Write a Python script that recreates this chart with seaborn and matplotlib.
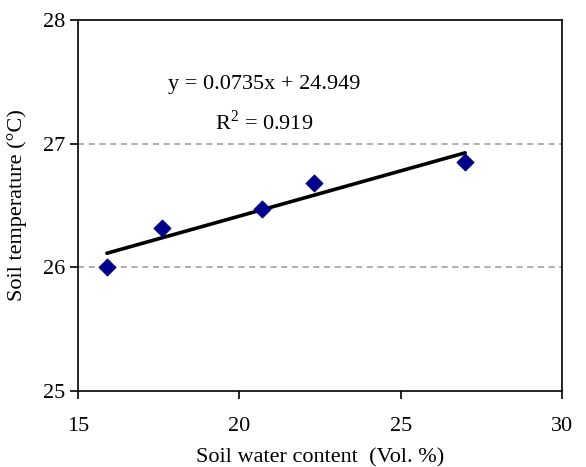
import matplotlib
matplotlib.use("Agg")
import matplotlib.pyplot as plt
import seaborn as sns
import pandas as pd

water = [15.9, 17.6, 20.7, 22.3, 27.0]
temp = [26.0, 26.32, 26.47, 26.68, 26.855]
x_ticks = [15, 20, 25, 30]
y_ticks = [25, 26, 27, 28]
eq_text = "y = 0.0735x + 24.949"
r2_text = "R$^2$ = 0.919"

df = pd.DataFrame({"water": water, "temp": temp})

sns.set_style("white")
plt.rcParams["font.family"] = ["Liberation Serif", "DejaVu Serif"]
plt.rcParams["mathtext.fontset"] = "custom"
plt.rcParams["mathtext.rm"] = "Liberation Serif"
plt.rcParams["text.color"] = "black"
plt.rcParams["axes.labelcolor"] = "black"

fig = plt.figure(figsize=(5.86, 4.67), dpi=100)
ax = fig.add_axes([0.133, 0.163, 0.826, 0.794])

for yv in [26, 27]:
    ax.axhline(yv, color="#999999", linestyle=(0, (4, 3)), linewidth=1.1, zorder=0)

sns.regplot(data=df, x="water", y="temp", ax=ax, scatter=False, ci=None,
            truncate=True, line_kws={"color": "black", "linewidth": 2.6})
sns.scatterplot(data=df, x="water", y="temp", ax=ax, marker="D", s=75,
                color="#00008B", edgecolor="#00008B", zorder=5)

ax.set_xlim(15, 30)
ax.set_ylim(25, 28)
ax.set_xticks(x_ticks)
ax.set_yticks(y_ticks)
ax.tick_params(axis="x", direction="out", length=5.5, width=1.2,
               labelsize=16, colors="black", pad=13, bottom=True)
ax.tick_params(axis="y", direction="out", length=5.8, width=1.2,
               labelsize=16, colors="black", pad=3, left=True)
for s in ax.spines.values():
    s.set_color("black")
    s.set_linewidth(1.2)

ax.set_xlabel("Soil water content  (Vol. %)", fontsize=16, labelpad=9)
ax.set_ylabel("Soil temperature (°C)", fontsize=16, labelpad=12)

ax.text(0.385, 0.825, eq_text, transform=ax.transAxes, ha="center", va="center", fontsize=16)
ax.text(0.385, 0.725, r2_text, transform=ax.transAxes, ha="center", va="center", fontsize=16)

fig.savefig("out.png", dpi=100)
